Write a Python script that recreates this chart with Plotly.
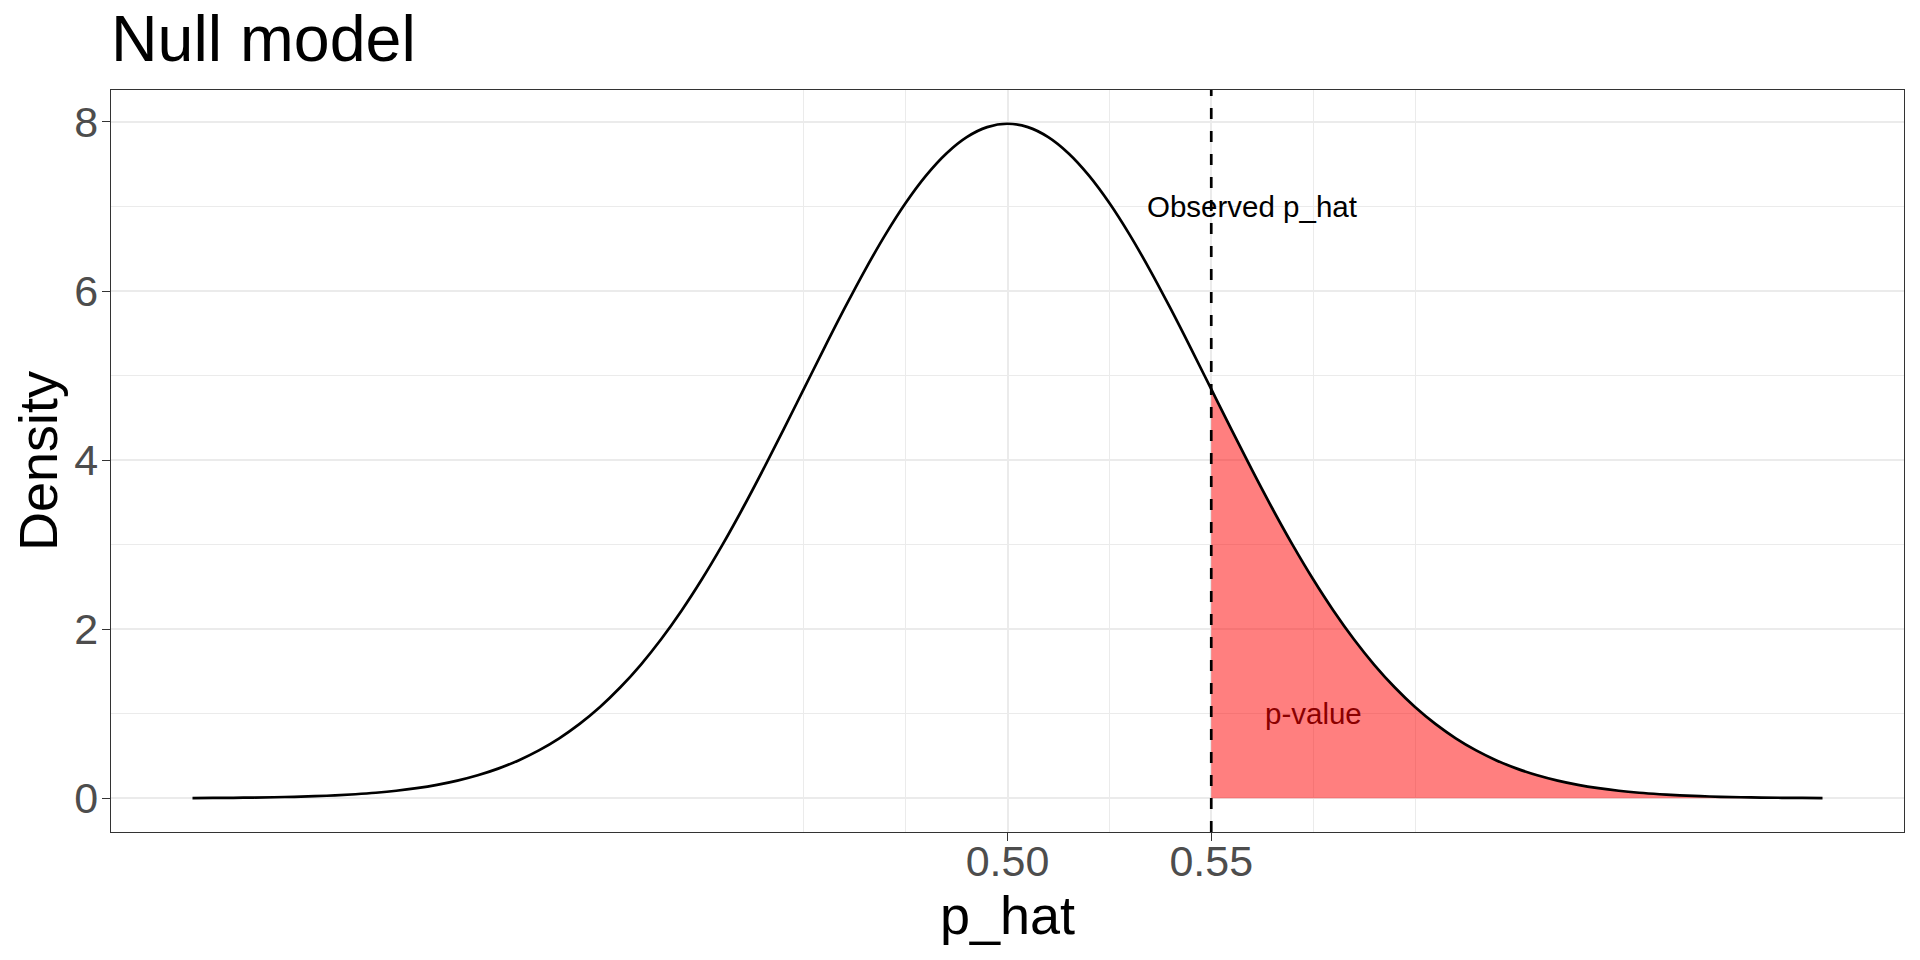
import plotly.graph_objects as go

# null distribution of p_hat (density)
p_hat = [
    0.300, 0.305, 0.310, 0.315, 0.320, 0.325, 0.330, 0.335, 0.340, 0.345,
    0.350, 0.355, 0.360, 0.365, 0.370, 0.375, 0.380, 0.385, 0.390, 0.395,
    0.400, 0.405, 0.410, 0.415, 0.420, 0.425, 0.430, 0.435, 0.440, 0.445,
    0.450, 0.455, 0.460, 0.465, 0.470, 0.475, 0.480, 0.485, 0.490, 0.495,
    0.500, 0.505, 0.510, 0.515, 0.520, 0.525, 0.530, 0.535, 0.540, 0.545,
    0.550, 0.555, 0.560, 0.565, 0.570, 0.575, 0.580, 0.585, 0.590, 0.595,
    0.600, 0.605, 0.610, 0.615, 0.620, 0.625, 0.630, 0.635, 0.640, 0.645,
    0.650, 0.655, 0.660, 0.665, 0.670, 0.675, 0.680, 0.685, 0.690, 0.695,
    0.700,
]
density = [
    0.0027, 0.0040, 0.0058, 0.0085, 0.0122, 0.0175, 0.0246, 0.0344, 0.0477, 0.0653,
    0.0886, 0.1191, 0.1583, 0.2084, 0.2717, 0.3506, 0.4479, 0.5665, 0.7095, 0.8800,
    1.0798, 1.3127, 1.5790, 1.8808, 2.2184, 2.5904, 2.9945, 3.4276, 3.8842, 4.3571,
    4.8394, 5.3218, 5.7938, 6.2452, 6.6645, 7.0413, 7.3654, 7.6277, 7.8209, 7.9390,
    7.9788, 7.9390, 7.8209, 7.6277, 7.3654, 7.0413, 6.6645, 6.2452, 5.7938, 5.3218,
    4.8394, 4.3571, 3.8842, 3.4276, 2.9945, 2.5904, 2.2184, 1.8808, 1.5790, 1.3127,
    1.0798, 0.8800, 0.7095, 0.5665, 0.4479, 0.3506, 0.2717, 0.2084, 0.1583, 0.1191,
    0.0886, 0.0653, 0.0477, 0.0344, 0.0246, 0.0175, 0.0122, 0.0085, 0.0058, 0.0040,
    0.0027,
]
observed = 0.55

x_ticks = [0.50, 0.55]
x_tick_text = ["0.50", "0.55"]
x_minor = [0.45, 0.475, 0.525, 0.575, 0.60]
y_ticks = [0, 2, 4, 6, 8]
y_minor = [1, 3, 5, 7]

# tail beyond the observed value -> shaded p-value area
tail = [(x, d) for x, d in zip(p_hat, density) if x >= observed - 1e-9]
tail_x = [t[0] for t in tail]
tail_y = [t[1] for t in tail]

font = "Liberation Sans, Arial, sans-serif"
grid = "#EBEBEB"

fig = go.Figure()
fig.add_scatter(
    x=tail_x, y=tail_y, mode="lines", fill="tozeroy",
    fillcolor="rgba(255,0,0,0.5)", line=dict(width=0, shape="spline"),
    hoverinfo="skip", showlegend=False,
)
fig.add_scatter(
    x=p_hat, y=density, mode="lines",
    line=dict(color="black", width=2.7, shape="spline"), showlegend=False,
)

fig.add_shape(
    type="line", xref="x", yref="paper", x0=observed, x1=observed, y0=0, y1=1,
    line=dict(color="black", width=2.7, dash="11px,12px"), layer="above",
)
fig.add_annotation(
    x=0.56, y=7, text="Observed p_hat", showarrow=False,
    font=dict(family=font, size=29.5, color="black"),
)
fig.add_annotation(
    x=0.575, y=1, text="p-value", showarrow=False,
    font=dict(family=font, size=29.5, color="darkred"),
)

axis_common = dict(
    showline=True, mirror=True, linecolor="#333333", linewidth=1.3,
    ticks="outside", ticklen=8, tickwidth=1.3, tickcolor="#333333",
    tickfont=dict(family=font, size=43, color="#4D4D4D"),
    showgrid=True, gridcolor=grid, gridwidth=2.3, zeroline=False,
)
# the page body has an 8px margin, so margins are shifted to compensate
fig.update_layout(
    width=1920, height=960,
    paper_bgcolor="white", plot_bgcolor="white",
    margin=dict(l=103, r=24, t=82, b=136, autoexpand=False),
    title=dict(
        text="Null model", x=0, xref="paper", xanchor="left",
        y=1 - 30 / 960, yanchor="middle",
        font=dict(family=font, size=64.5, color="black"),
    ),
    xaxis=dict(
        range=[0.28, 0.72], tickmode="array", tickvals=x_ticks, ticktext=x_tick_text,
        ticklabelstandoff=-17,
        title=dict(text="p_hat", font=dict(family=font, size=54, color="black"), standoff=8),
        minor=dict(tickmode="array", tickvals=x_minor, showgrid=True, gridcolor=grid, gridwidth=1.1, ticks=""),
        **axis_common,
    ),
    yaxis=dict(
        range=[-0.399, 8.378], tickmode="array", tickvals=y_ticks,
        ticklabelstandoff=-5,
        title=dict(text="Density", font=dict(family=font, size=54, color="black"), standoff=15),
        minor=dict(tickmode="array", tickvals=y_minor, showgrid=True, gridcolor=grid, gridwidth=1.1, ticks=""),
        **axis_common,
    ),
)

fig.write_html("out.html")
